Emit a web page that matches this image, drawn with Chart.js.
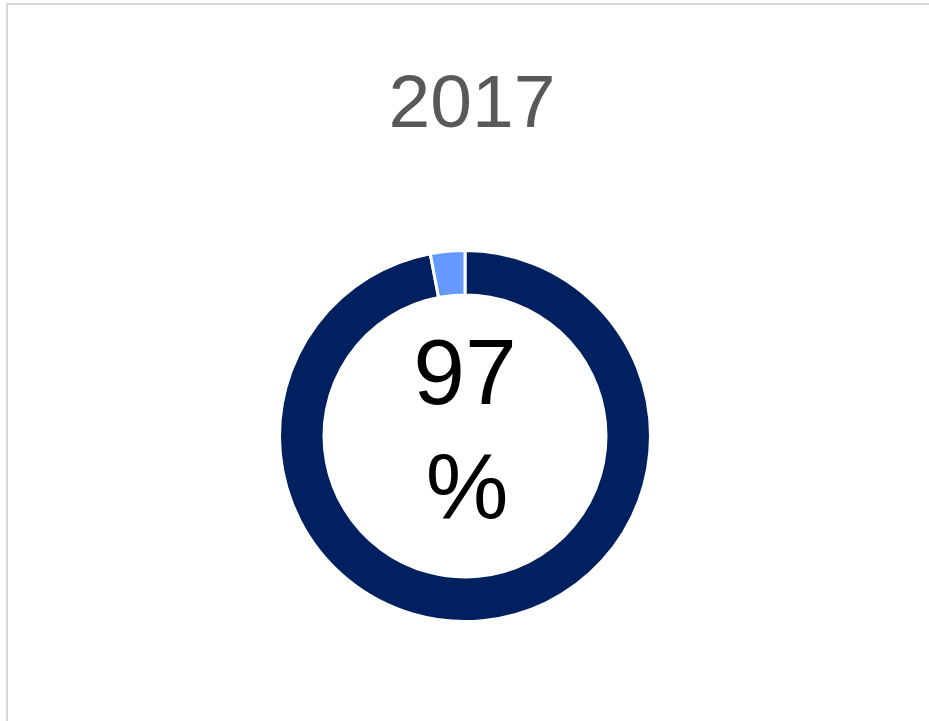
<!DOCTYPE html>
<html>
<head>
<meta charset="utf-8">
<script src="https://cdn.jsdelivr.net/npm/chart.js@4"></script>
<style>
  html, body { margin: 0; padding: 0; background: #fff; overflow: hidden; }
  #frame {
    position: absolute; left: 6px; top: 3px; width: 1000px; height: 800px;
    border-top: 2px solid #d9d9d9; border-left: 2px solid #d9d9d9;
  }
  #wrap { position: absolute; left: 0; top: 0; width: 929px; height: 721px; }
</style>
</head>
<body>
<div id="frame"></div>
<div id="wrap"><canvas id="chart1" width="929" height="721"></canvas></div>
<script>
const year_title = "2017";
const slice_labels = ["Yes", "No"];
const slice_values = [97, 3];
const slice_colors = ["#002060", "#6699FF"];
const center_lines = ["97", "%"];

// title above and the big number in the hole
const extraText = {
  id: "extraText",
  afterDraw(chart) {
    const meta = chart.getDatasetMeta(0);
    if (!meta.data.length) return;
    const cx = meta.data[0].x;
    const cy = meta.data[0].y;
    const ctx = chart.ctx;
    ctx.save();
    ctx.textAlign = "center";
    ctx.textBaseline = "middle";
    ctx.fillStyle = "#595959";
    ctx.font = "75px 'Liberation Sans', Arial, sans-serif";
    ctx.fillText(year_title, 472, 106);
    ctx.fillStyle = "#000";
    ctx.font = "93px 'Liberation Sans', Arial, sans-serif";
    ctx.fillText(center_lines[0], cx, cy - 58);
    ctx.fillText(center_lines[1], cx + 2, cy + 56);
    ctx.restore();
  }
};

const ctx = document.getElementById("chart1").getContext("2d");
const myChart = new Chart(ctx, {
  type: "doughnut",
  data: {
    labels: slice_labels,
    datasets: [{
      data: slice_values,
      backgroundColor: slice_colors,
      borderColor: "#ffffff",
      borderWidth: 3
    }]
  },
  options: {
    responsive: false,
    animation: false,
    cutout: "76%",
    events: [],
    layout: { padding: { top: 249, left: 278, right: 277, bottom: 98 } },
    plugins: {
      legend: { display: false },
      tooltip: { enabled: false },
      title: { display: false }
    }
  },
  plugins: [extraText]
});
</script>
</body>
</html>
